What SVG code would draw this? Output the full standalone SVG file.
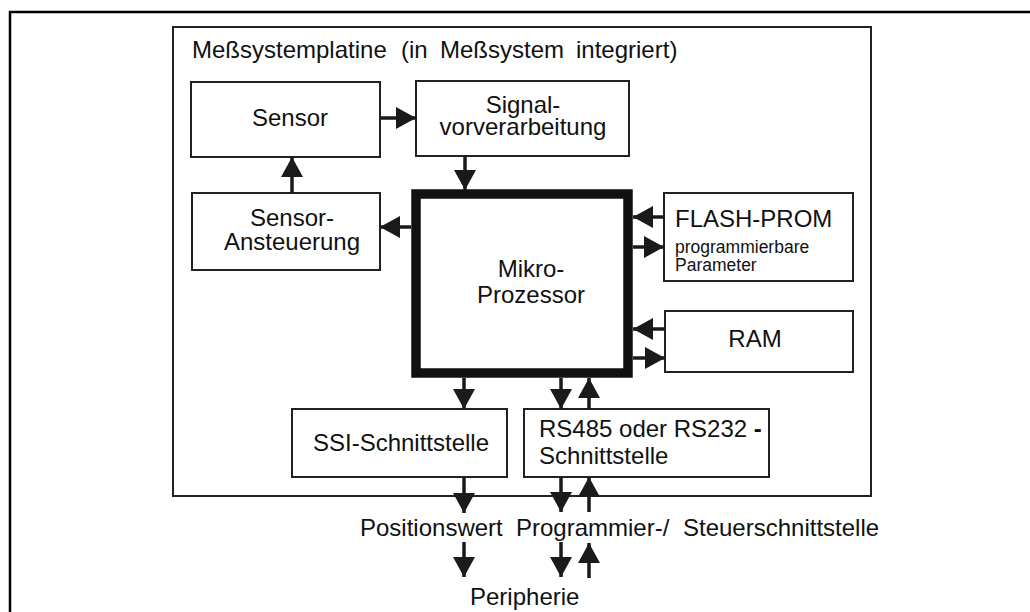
<svg xmlns="http://www.w3.org/2000/svg" width="1030" height="612" viewBox="0 0 1030 612">
<style>
  .box { fill: #fff; stroke: #222; stroke-width: 2; }
  .t { font-family: "Liberation Sans", Arial, sans-serif; font-size: 24px; fill: #111; }
  .m { text-anchor: middle; }
  .s { font-size: 17.5px; }
  .c { stroke: #1a1a1a; stroke-width: 3.5; fill: none; marker-end: url(#ah); }
</style>
<defs>
  <marker id="ah" markerUnits="userSpaceOnUse" markerWidth="20" markerHeight="22" refX="20" refY="11" orient="auto" viewBox="0 0 20 22">
    <path d="M0,0 L20,11 L0,22 z" fill="#1a1a1a"/>
  </marker>
</defs>
<rect width="1030" height="612" fill="#fff"/>
<rect id="frame" x="10" y="12" width="1040" height="640" fill="none" stroke="#000" stroke-width="2.5"/>
<g id="platine">
  <rect class="box" x="173" y="27" width="698" height="469"/>
  <text class="t" y="58"><tspan x="192">Meßsystemplatine</tspan><tspan x="401">(in</tspan><tspan x="440">Meßsystem</tspan><tspan x="576">integriert)</tspan></text>
</g>
<g id="sensor">
  <rect class="box" x="191" y="82" width="189" height="75"/>
  <text class="t m" x="290" y="126">Sensor</text>
</g>
<g id="signal">
  <rect class="box" x="416" y="81" width="213" height="75"/>
  <text class="t m" x="523" y="113">Signal-</text>
  <text class="t m" x="523" y="135">vorverarbeitung</text>
</g>
<g id="ansteuerung">
  <rect class="box" x="192" y="193" width="188" height="77"/>
  <text class="t m" x="292" y="226">Sensor-</text>
  <text class="t m" x="292" y="250">Ansteuerung</text>
</g>
<g id="mikroprozessor">
  <rect x="416" y="194" width="212" height="179" fill="#fff" stroke="#111" stroke-width="9.5"/>
  <text class="t m" x="531" y="277">Mikro-</text>
  <text class="t m" x="531" y="303">Prozessor</text>
</g>
<g id="flash">
  <rect class="box" x="664" y="193" width="189" height="88"/>
  <text class="t" x="675" y="227">FLASH-PROM</text>
  <text class="t s" x="675" y="253">programmierbare</text>
  <text class="t s" x="675" y="270.5">Parameter</text>
</g>
<g id="ram">
  <rect class="box" x="665" y="311" width="188" height="61"/>
  <text class="t m" x="755" y="347">RAM</text>
</g>
<g id="ssi">
  <rect class="box" x="292" y="409" width="215" height="68"/>
  <text class="t m" x="401" y="451">SSI-Schnittstelle</text>
</g>
<g id="rs">
  <rect class="box" x="524" y="409" width="245" height="68"/>
  <text class="t" x="539" y="437">RS485 oder RS232 <tspan font-weight="bold">-</tspan></text>
  <text class="t" x="539" y="464">Schnittstelle</text>
</g>
<g id="labels">
  <text class="t" x="360" y="536">Positionswert</text>
  <text class="t" x="516" y="536">Programmier-/</text>
  <text class="t" x="683" y="536">Steuerschnittstelle</text>
  <text class="t" x="470" y="605">Peripherie</text>
</g>
<g id="connectors">
  <line class="c" x1="380" y1="118" x2="416" y2="118"/>
  <line class="c" x1="292" y1="193" x2="292" y2="157"/>
  <line class="c" x1="465" y1="156" x2="465" y2="190"/>
  <line class="c" x1="411" y1="227" x2="380" y2="227"/>
  <line class="c" x1="664" y1="217" x2="633" y2="217"/>
  <line class="c" x1="633" y1="247" x2="664" y2="247"/>
  <line class="c" x1="665" y1="329" x2="633" y2="329"/>
  <line class="c" x1="633" y1="358" x2="665" y2="358"/>
  <line class="c" x1="464" y1="378" x2="464" y2="409"/>
  <line class="c" x1="561" y1="378" x2="561" y2="409"/>
  <line class="c" x1="589" y1="409" x2="589" y2="378"/>
  <line class="c" x1="464" y1="477" x2="464" y2="513"/>
  <line class="c" x1="561" y1="477" x2="561" y2="512"/>
  <line class="c" x1="589" y1="512" x2="589" y2="477"/>
  <line class="c" x1="464" y1="542" x2="464" y2="577"/>
  <line class="c" x1="561" y1="542" x2="561" y2="577"/>
  <line class="c" x1="589" y1="578" x2="589" y2="543"/>
</g>
</svg>
